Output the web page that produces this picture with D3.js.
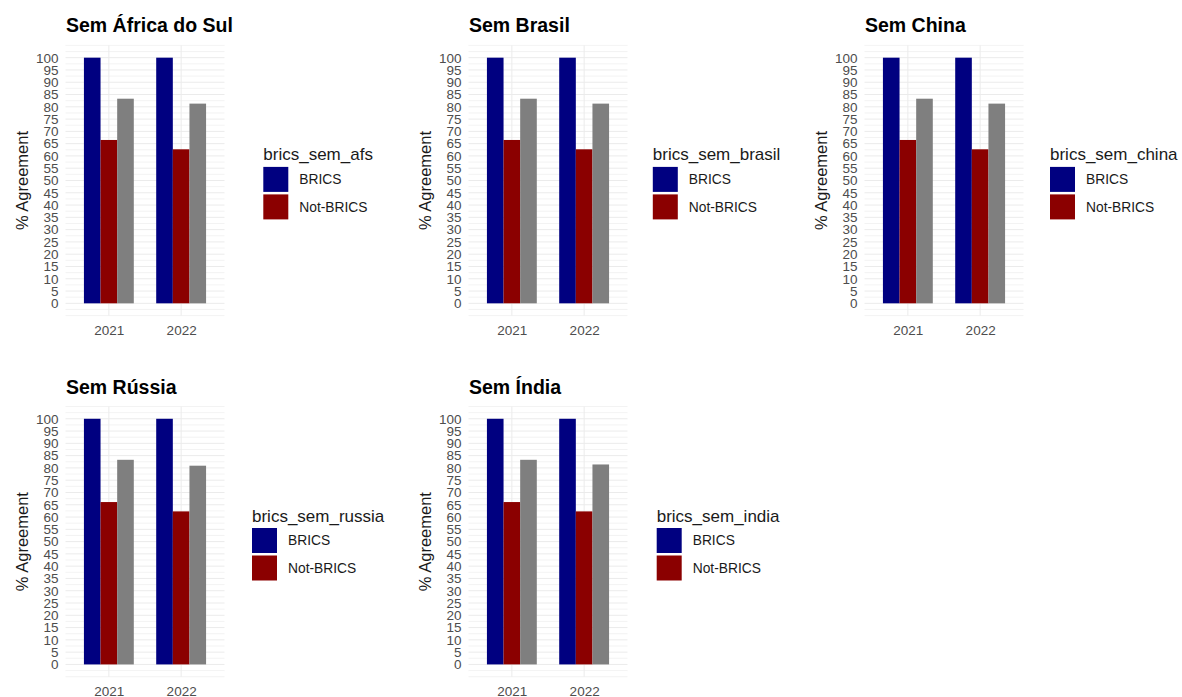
<!DOCTYPE html>
<html>
<head>
<meta charset="utf-8">
<script src="https://cdn.jsdelivr.net/npm/d3@7"></script>
<style>
  html, body { margin: 0; padding: 0; background: #fff; }
  svg { display: block; font-family: "Liberation Sans", Arial, sans-serif; }
</style>
</head>
<body>
<svg id="chart" width="1182" height="697"></svg>
<script>
// ---------------- data ----------------
const years = ["2021", "2022"];
const groups = ["BRICS", "Not-BRICS", "NA"];          // NA shown as grey bar, not in legend
const legendGroups = ["BRICS", "Not-BRICS"];
const yTicks = [0, 5, 10, 15, 20, 25, 30, 35, 40, 45, 50, 55, 60, 65, 70, 75, 80, 85, 90, 95, 100];

const panelTitles = ["Sem África do Sul", "Sem Brasil", "Sem China", "Sem Rússia", "Sem Índia"];
const legendTitles = ["brics_sem_afs", "brics_sem_brasil", "brics_sem_china", "brics_sem_russia", "brics_sem_india"];

// values per year: [BRICS, Not-BRICS, NA]
const semAfrica = [[100, 66.5, 83.3], [100, 62.7, 81.3]];
const semBrasil = [[100, 66.5, 83.3], [100, 62.7, 81.3]];
const semChina  = [[100, 66.5, 83.3], [100, 62.7, 81.3]];
const semRussia = [[100, 66.1, 83.3], [100, 62.3, 80.9]];
const semIndia  = [[100, 66.1, 83.3], [100, 62.3, 81.4]];
const panelValues = [semAfrica, semBrasil, semChina, semRussia, semIndia];

// ---------------- layout ----------------
const colors = { "BRICS": "#000080", "Not-BRICS": "#8b0000", "NA": "#7f7f7f" };
const panelLefts = [65.5, 468.5, 864.5, 65.5, 468.5];
const panelTops = [45.4, 45.4, 45.4, 406.5, 406.5];
const legendLefts = [263.3, 652.8, 1050, 252, 656.7];
const panelW = 159, panelH = 270.2;

const svg = d3.select("#chart");

panelValues.forEach((vals, p) => {
  const left = panelLefts[p], top = panelTops[p];
  const g = svg.append("g");

  const x = d3.scalePoint().domain(years).range([left, left + panelW]).padding(0.6);
  const step = x.step();
  const inner = d3.scaleBand().domain(groups).range([-0.345 * step, 0.345 * step]).padding(0);
  const y = d3.scaleLinear().domain([-5, 105]).range([top + panelH, top]);

  // horizontal grid (major + minor)
  const gridVals = d3.range(-5, 105.01, 2.5);
  g.append("g").selectAll("line").data(gridVals).join("line")
    .attr("x1", left).attr("x2", left + panelW)
    .attr("y1", d => y(d)).attr("y2", d => y(d))
    .attr("stroke", "#ebebeb")
    .attr("stroke-width", d => (d % 5 === 0 && d >= 0 && d <= 100) ? 1 : 0.6);
  // vertical grid
  g.append("g").selectAll("line").data(years).join("line")
    .attr("x1", d => x(d)).attr("x2", d => x(d))
    .attr("y1", top).attr("y2", top + panelH)
    .attr("stroke", "#ebebeb").attr("stroke-width", 1);

  // bars
  const rows = [];
  years.forEach((yr, i) => groups.forEach((gr, j) => rows.push({ year: yr, group: gr, value: vals[i][j] })));
  g.append("g").selectAll("rect").data(rows).join("rect")
    .attr("x", d => x(d.year) + inner(d.group))
    .attr("width", inner.bandwidth())
    .attr("y", d => y(d.value))
    .attr("height", d => y(0) - y(d.value))
    .attr("fill", d => colors[d.group]);

  // y axis
  const ya = g.append("g").attr("transform", `translate(${left},0)`)
    .call(d3.axisLeft(y).tickValues(yTicks).tickSize(0).tickPadding(7));
  ya.select(".domain").remove();
  ya.selectAll("text").attr("fill", "#4d4d4d").style("font-size", "13.5px")
    .style("font-family", "Liberation Sans, Arial, sans-serif");

  // x axis
  const xa = g.append("g").attr("transform", `translate(0,${top + panelH})`)
    .call(d3.axisBottom(x).tickSize(0).tickPadding(10));
  xa.select(".domain").remove();
  xa.selectAll("text").attr("fill", "#4d4d4d").style("font-size", "13.5px")
    .style("font-family", "Liberation Sans, Arial, sans-serif");

  // y title
  g.append("text")
    .attr("transform", `translate(${left - 43},${top + panelH / 2}) rotate(-90)`)
    .attr("text-anchor", "middle").attr("dy", "0.35em")
    .style("font-size", "16.5px").attr("fill", "#1a1a1a")
    .text("% Agreement");

  // panel title
  g.append("text")
    .attr("x", left + 0.5).attr("y", top - 13)
    .style("font-size", "19.5px").style("font-weight", "bold").attr("fill", "#000")
    .text(panelTitles[p]);

  // legend
  const lx = legendLefts[p];
  const lg = g.append("g");
  lg.append("text").attr("x", lx).attr("y", top + 115)
    .style("font-size", "17px").attr("fill", "#1a1a1a")
    .text(legendTitles[p]);
  legendGroups.forEach((gr, i) => {
    const ky = top + 121.5 + i * 27.5;
    lg.append("rect").attr("x", lx).attr("y", ky).attr("width", 25).attr("height", 25)
      .attr("fill", colors[gr]);
    lg.append("text").attr("x", lx + 36).attr("y", ky + 12.5).attr("dy", "0.35em")
      .style("font-size", "13.8px").attr("fill", "#1a1a1a")
      .text(gr);
  });
});
</script>
</body>
</html>
